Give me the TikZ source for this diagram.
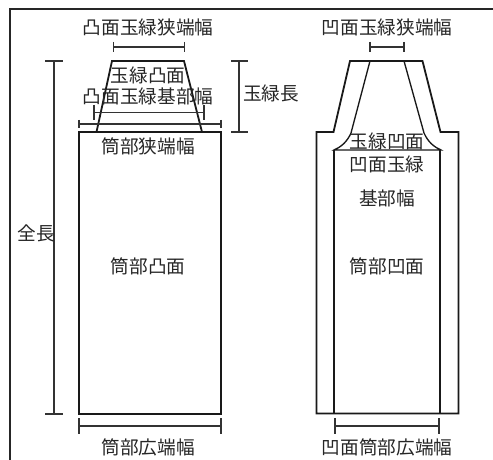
\documentclass[tikz,border=0pt]{standalone}
\usepackage{fontspec}
\newfontfamily\jpfont{Noto Sans CJK JP}[Scale=1]
\tikzset{
  lbl/.style={inner sep=0pt,font=\jpfont\fontsize{14pt}{14pt}\selectfont,text=black!85},
  shapeline/.style={draw=black!90,line width=1.35pt,line join=miter},
  thinshape/.style={draw=black!90,line width=1pt},
  dimline/.style={draw=black!80,line width=0.8pt},
  frameline/.style={draw=black!85,line width=1.3pt}
}
\newcommand{\dimh}[5]{% x1,x2,y,tick top,tick bottom
  \coordinate (a) at (#1,-#3); \coordinate (b) at (#2,-#3);
  \draw[dimline] (a) -- (b);
  \draw[dimline] (#1,-#4) -- (#1,-#5);
  \draw[dimline] (#2,-#4) -- (#2,-#5);
}
\newcommand{\dimv}[5]{% x,y1,y2,tick left,tick right
  \coordinate (a) at (#1,-#2); \coordinate (b) at (#1,-#3);
  \draw[dimline] (a) -- (b);
  \draw[dimline] (#4,-#2) -- (#5,-#2);
  \draw[dimline] (#4,-#3) -- (#5,-#3);
}
\begin{document}
\begin{tikzpicture}[x=0.75pt,y=0.75pt]
\useasboundingbox (0,0) rectangle (493,-460);
\path[fill=white] (0,0) rectangle (493,-460);
\draw[frameline] (10,-460) -- (10,-9) -- (493,-9);

% left piece
\draw[shapeline] (79,-132) rectangle (221,-414);
\draw[shapeline] (96.5,-132) -- (112,-61) -- (184,-61) -- (202,-132);

% right piece
\draw[shapeline] (316.5,-413.5) -- (316.5,-132) -- (333.5,-132) -- (350,-61) -- (422.5,-61) -- (440.5,-132) -- (458.5,-132) -- (458.5,-413.5) -- cycle;
\draw[thinshape] (370,-61) -- (351,-133) .. controls (347,-142) and (341,-147) .. (334,-150) -- (441,-150) .. controls (434,-147) and (428,-142) .. (424,-133) -- (404,-61);
\draw[thinshape] (334,-150) -- (334,-414);
\draw[thinshape] (440,-150) -- (440,-414);

% dimensions
\dimh{113.5}{184.5}{47}{42}{52}
\dimh{94}{204}{112.5}{105}{120}
\dimh{79}{221}{124}{120}{128}
\dimh{79}{221}{426}{418}{434}
\dimh{370}{404}{47}{42}{52}
\dimh{335}{439}{426}{418}{434}
\dimv{54}{61}{414}{45}{63}
\dimv{239}{61}{132}{231}{248}

% labels
\node[lbl] (t1) at (148,-27) {凸面玉緑狭端幅};
\node[lbl] (t2) at (148,-75) {玉緑凸面};
\node[lbl] (t3) at (148,-96) {凸面玉緑基部幅};
\node[lbl] (t4) at (148,-146) {筒部狭端幅};
\node[lbl] (t5) at (148,-266) {筒部凸面};
\node[lbl] (t6) at (36,-233) {全長};
\node[lbl] (t7) at (271,-93) {玉緑長};
\node[lbl] (t8) at (148,-447) {筒部広端幅};
\node[lbl] (t9) at (387,-27) {凹面玉緑狭端幅};
\node[lbl] (t10) at (387,-141) {玉緑凹面};
\node[lbl] (t11) at (387,-164) {凹面玉緑};
\node[lbl] (t12) at (387,-198) {基部幅};
\node[lbl] (t13) at (387,-266) {筒部凹面};
\node[lbl] (t14) at (387,-447) {凹面筒部広端幅};
\end{tikzpicture}
\end{document}
